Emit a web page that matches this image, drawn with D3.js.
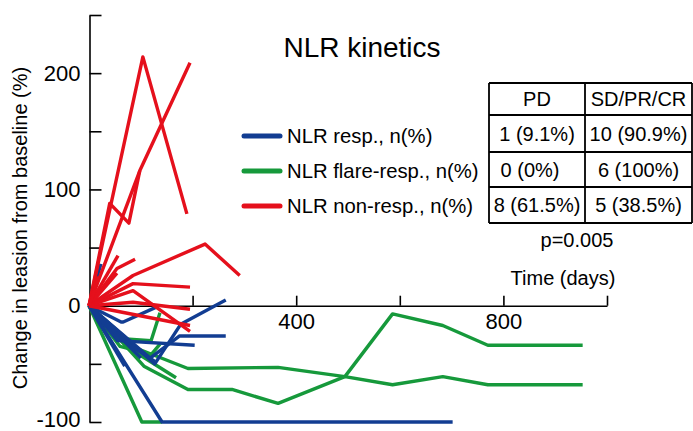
<!DOCTYPE html>
<html>
<head>
<meta charset="utf-8">
<script src="https://cdn.jsdelivr.net/npm/d3@7"></script>
<style>
  html, body { margin: 0; padding: 0; background: #fff; }
  svg { display: block; font-family: "Liberation Sans", Arial, sans-serif; }
</style>
</head>
<body>
<svg id="chart" width="693" height="431"></svg>
<script>
// ---- data: [day, % change] ----
const respLines = [
  [[0,0],[141,-100],[702,-100]],
  [[0,0],[62,-14],[66,-14],[131,-1]],
  [[0,0],[127,-50],[177,-16],[264,5]],
  [[0,0],[118,-45],[175,-26],[264,-26]],
  [[0,0],[55,-30],[204,-34]],
  [[0,0],[69,-52]],
  [[0,0],[23,36]],
  [[0,0],[60,-28],[127,-48]],
  [[0,0],[100,-45]]
];
const flareLines = [
  [[0,0],[102,-100],[141,-100]],
  [[0,0],[94,-37],[191,-54],[365,-53],[494,-61],[586,-68],[683,-61],[770,-68],[953,-68]],
  [[0,0],[106,-52],[191,-72],[276,-72],[365,-84],[494,-61],[586,-7],[683,-17],[770,-34],[953,-34]],
  [[0,0],[90,-40],[168,-62]],
  [[0,0],[50,-28],[120,-30],[137,-6]],
  [[0,0],[60,-35],[120,-42],[137,-33]]
];
const nonRespLines = [
  [[0,0],[104,214],[189,79]],
  [[0,0],[40,88],[77,71],[98,116]],
  [[0,0],[98,116],[195,209]],
  [[0,0],[56,43]],
  [[0,0],[54,32],[89,40]],
  [[0,0],[54,28]],
  [[0,0],[85,26],[224,53],[291,26]],
  [[0,0],[85,19],[195,16]],
  [[0,0],[85,13],[195,-22]],
  [[0,0],[85,3],[195,-3]],
  [[0,0],[195,-17]],
  [[0,0],[18,25]],
  [[0,0],[12,14]]
];
const yTicks = [-100,-50,0,50,100,150,200,250];
const yLabels = [-100,0,100,200];
const xTicks = [200,400,600,800,1000];
const xLabels = [400,800];
const legendLabels = ["NLR resp., n(%)","NLR flare-resp., n(%)","NLR non-resp., n(%)"];
const tableHeader = ["PD","SD/PR/CR"];
const tableRows = [["1 (9.1%)","10 (90.9%)"],["0 (0%)","6 (100%)"],["8 (61.5%)","5 (38.5%)"]];
const pValue = "p=0.005";
const colors = {resp:"#123d92", flare:"#16993b", non:"#e5101c"};

const svg = d3.select("#chart");
const x = d3.scaleLinear().domain([0,1000]).range([89,607]);
const y = d3.scaleLinear().domain([-100,250]).range([422,15]);

// title
svg.append("text").attr("x",362).attr("y",57).attr("text-anchor","middle")
  .attr("font-size",28).text("NLR kinetics");

// y axis
const yAxis = d3.axisLeft(y).tickValues(yTicks).tickSizeInner(-12).tickSizeOuter(0).tickPadding(9)
  .tickFormat(d => yLabels.includes(d) ? d : "");
const gy = svg.append("g").attr("transform","translate(89.5,0)").call(yAxis);
gy.selectAll("text").attr("font-size",22).attr("fill","#000").attr("font-family","Liberation Sans, Arial, sans-serif")
  .attr("dy", d => d === -100 ? "0.22em" : "0.32em");
gy.selectAll("line,path").attr("stroke","#000").attr("stroke-width",1.6);

// x axis
const xAxis = d3.axisBottom(x).tickValues(xTicks).tickSizeInner(-10).tickSizeOuter(0).tickPadding(8)
  .tickFormat(d => xLabels.includes(d) ? d : "");
const gx = svg.append("g").attr("transform",`translate(0,${y(0)})`).call(xAxis);
gx.selectAll("text").attr("font-size",22).attr("fill","#000").attr("font-family","Liberation Sans, Arial, sans-serif");
gx.selectAll("line,path").attr("stroke","#000").attr("stroke-width",1.6);

// y label
svg.append("text").attr("transform","translate(27,228) rotate(-90)").attr("text-anchor","middle")
  .attr("font-size",20).text("Change in leasion from baseline (%)");

// lines
const line = d3.line().x(d => x(d[0])).y(d => y(d[1]));
function drawGroup(data, color) {
  svg.append("g").selectAll("path").data(data).join("path")
    .attr("d", line).attr("fill","none").attr("stroke",color)
    .attr("stroke-width",3.4).attr("stroke-linejoin","round").attr("stroke-linecap","butt");
}
drawGroup(flareLines, colors.flare);
drawGroup(respLines, colors.resp);
drawGroup(nonRespLines, colors.non);

// legend
const legColors = [colors.resp, colors.flare, colors.non];
const legY = [136, 171, 206];
legendLabels.forEach((lab,i) => {
  svg.append("line").attr("x1",244).attr("x2",280).attr("y1",legY[i]).attr("y2",legY[i])
    .attr("stroke",legColors[i]).attr("stroke-width",5).attr("stroke-linecap","round");
  svg.append("text").attr("x",287).attr("y",legY[i]+7).attr("font-size",20.3).text(lab);
});

// table
const colX = [489,585,692];
const rowY = [83,115,152,187,223];
const tg = svg.append("g").attr("stroke","#000").attr("stroke-width",1.8);
colX.forEach(cx => tg.append("line").attr("x1",cx).attr("x2",cx).attr("y1",rowY[0]).attr("y2",rowY[4]));
rowY.forEach(ry => tg.append("line").attr("x1",colX[0]).attr("x2",colX[2]).attr("y1",ry).attr("y2",ry));
const allRows = [tableHeader, ...tableRows];
allRows.forEach((r,i) => {
  r.forEach((t,j) => {
    svg.append("text").attr("x",(colX[j]+colX[j+1])/2 + (i===2 && j===0 ? -7 : 0))
      .attr("y",(rowY[i]+rowY[i+1])/2+7).attr("text-anchor","middle").attr("font-size",20).text(t);
  });
});
svg.append("text").attr("x",577).attr("y",247).attr("text-anchor","middle").attr("font-size",20).text(pValue);
svg.append("text").attr("x",563).attr("y",285).attr("text-anchor","middle").attr("font-size",20).text("Time (days)");
</script>
</body>
</html>
